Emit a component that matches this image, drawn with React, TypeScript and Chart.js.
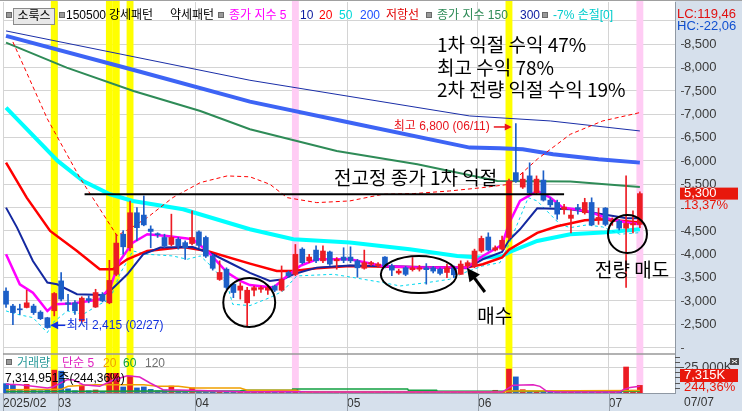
import React, { useEffect, useRef } from 'react';
import { Chart, registerables } from 'chart.js';

Chart.register(...registerables);

// ---------------- data ----------------
// candle index 0 = 2025/02/19 ... index 92 = 2025/07/07
const opens = [
  3210, 2890, 2830, 2860, 2890, 2760, 2640, 2790, 3430, 2960,
  2960, 2570, 3050, 2870, 3140, 2960, 3570, 4430, 4140, 4890,
  4840, 4540, 4440, 4360, 4210, 4320, 4250, 4230, 4480, 4360,
  3960, 3460, 3680, 3360, 3230, 2960, 3230, 3250, 3230, 3320,
  3230, 3610, 3570, 4110, 3860, 4090, 3860, 4050, 3860, 3940,
  3940, 3860, 3700, 3790, 3750, 3940, 3750, 3600, 3710, 3670,
  3680, 3710, 3710, 3680, 3610, 3710, 3570, 3750, 3750, 4070,
  4370, 4090, 4110, 4360, 5750, 5440, 5680, 5320, 5590, 5160,
  5110, 4960, 4770, 5000, 4890, 5110, 4750, 4990, 4700, 4710,
  4560, 4630, 4640,
];
const highs = [
  3280, 2930, 2930, 3230, 2930, 2790, 2650, 3180, 3610, 3140,
  3010, 3090, 3110, 3250, 3180, 3870, 4430, 4510, 5140, 5000,
  5250, 4610, 4460, 4430, 4860, 4360, 4290, 4930, 4500, 4390,
  4000, 3860, 3710, 3390, 3390, 3290, 3320, 3320, 3320, 3340,
  3750, 3640, 4210, 4140, 4000, 4180, 4180, 4070, 3930, 4140,
  4160, 3890, 4090, 3850, 3820, 3950, 3790, 3680, 3740, 3930,
  3760, 3800, 3740, 3710, 3790, 3750, 3860, 3860, 4110, 4390,
  4460, 4180, 4390, 5610, 6800, 5750, 5960, 5680, 5790, 5210,
  5160, 5070, 4960, 5070, 5200, 5210, 4990, 5000, 4780, 4740,
  5680, 4930, 5340,
];
const lows = [
  2860, 2490, 2710, 2850, 2710, 2600, 2415, 2680, 3000, 2790,
  2710, 2540, 2960, 2860, 2980, 2940, 3540, 4000, 4070, 4290,
  4610, 4140, 4360, 4140, 4180, 4110, 3890, 4200, 4140, 3930,
  3660, 3440, 3250, 3070, 3040, 2460, 3110, 3180, 3140, 3200,
  3210, 3500, 3540, 3790, 3820, 3820, 3820, 3760, 3680, 3820,
  3820, 3510, 3680, 3760, 3720, 3710, 3540, 3570, 3540, 3640,
  3640, 3360, 3600, 3560, 3500, 3500, 3570, 3710, 3710, 4040,
  4070, 4070, 4090, 4320, 5540, 5410, 5290, 5290, 5140, 5010,
  4750, 4860, 4460, 4860, 4860, 4610, 4640, 4610, 4620, 4520,
  3290, 4460, 4570,
];
const closes = [
  2930, 2750, 2810, 2960, 2750, 2620, 2430, 3160, 3040, 2930,
  2790, 3060, 3010, 3180, 3000, 3440, 4240, 4160, 4890, 4570,
  4630, 4490, 4420, 4180, 4360, 4180, 4140, 4360, 4190, 3960,
  3700, 3610, 3290, 3180, 3320, 3230, 3285, 3285, 3285, 3230,
  3460, 3540, 4000, 3820, 3940, 3860, 4070, 3790, 3890, 3870,
  3860, 3710, 3820, 3820, 3790, 3750, 3660, 3640, 3570, 3710,
  3710, 3670, 3640, 3590, 3710, 3560, 3790, 3820, 4070, 4340,
  4090, 4140, 4300, 5570, 5570, 5610, 5320, 5610, 5160, 5060,
  4860, 5010, 4840, 4960, 5110, 4630, 4790, 4640, 4740, 4560,
  4660, 4660, 5300,
];
const volumesK = [
  9000, 7400, 2500, 8300, 3500, 2200, 2900, 22000, 21000, 4000,
  2200, 7700, 2200, 2900, 1600, 18900, 18900, 5800, 16300, 4900,
  5800, 3500, 2200, 2900, 6700, 2200, 2200, 4900, 2200, 1900,
  2200, 1600, 1600, 1600, 1600, 1200, 1000, 2300, 1000, 800,
  2400, 800, 3300, 900, 1100, 800, 1000, 900, 700, 800,
  900, 800, 1000, 700, 900, 800, 700, 800, 700, 900,
  800, 700, 800, 700, 900, 700, 1100, 800, 1300, 1000,
  900, 2600, 1600, 23000, 15500, 3200, 1000, 900, 1100, 800,
  1200, 700, 900, 700, 800, 900, 700, 800, 700, 1000,
  25000, 2700, 7315,
];

type Pt = [number, number]; // [candle index, value]
const ema5: Pt[] = [[0, 4000], [2, 3357], [3.9, 3178], [6, 2786], [7.1, 2929], [9.7, 2943], [13.6, 3036], [15.1, 3286], [16.5, 3857], [18.4, 4250], [20.5, 4429], [23.4, 4393], [27.1, 4321], [29.2, 4071], [32.1, 3607], [34, 3429], [35.4, 3340], [38.8, 3286], [40.8, 3536], [42.7, 3750], [45.1, 3893], [49.9, 3893], [54.7, 3750], [59.7, 3714], [66.9, 3714], [69.2, 3964], [72, 4200], [73, 4660], [74.6, 5143], [77.1, 5357], [79, 5214], [80.8, 5000], [84.3, 4929], [87.7, 4750], [90.1, 4679], [92, 4643]];
const ema10: Pt[] = [[0, 5000], [1.6, 4571], [3.9, 3857], [6, 3393], [7.4, 3357], [10.3, 3143], [14.1, 3129], [15.1, 3214], [17.6, 3571], [19.9, 4000], [22.4, 4143], [27.1, 4157], [30, 4000], [32.9, 3786], [35.4, 3600], [38.3, 3428], [40.2, 3464], [41.7, 3571], [45.1, 3714], [49.9, 3760], [57.2, 3740], [66.9, 3700], [69.2, 3893], [72, 4050], [73, 4300], [74.6, 4536], [77.1, 4986], [81.9, 4964], [86.6, 4857], [90.1, 4771], [92, 4771]];
const ema20: Pt[] = [[0, 5964], [3, 5214], [6.4, 4500], [10.3, 4071], [13.6, 3679], [15.5, 3679], [17.6, 3893], [20.5, 4071], [25.7, 4157], [29.2, 4071], [35.4, 3800], [39.3, 3643], [41.7, 3643], [45.1, 3700], [49.9, 3750], [57.2, 3728], [66.9, 3714], [69.2, 3786], [72, 3930], [73, 4100], [77.1, 4460], [80, 4600], [84, 4730], [86.9, 4750], [92, 4680]];
const ema50: Pt[] = [[0, 7143], [7.5, 6000], [11.2, 5571], [15.1, 5286], [18.4, 5143], [25.7, 4964], [35.4, 4536], [41.7, 4321], [49.9, 4250], [58.6, 4107], [65.5, 3964], [69.2, 3928], [72, 3960], [73.1, 4050], [77.1, 4286], [81.9, 4429], [86.6, 4464], [92, 4536]];
const ema150: Pt[] = [[0, 8536], [8.8, 8000], [18.5, 7500], [28.2, 7071], [35.4, 6679], [48, 6214], [59.7, 5928], [71.3, 5571], [81.9, 5557], [92, 5443]];
const ema200: Pt[] = [[0, 8679], [18, 7970], [35.4, 7271], [50, 6820], [67.3, 6286], [71.7, 6271], [75, 6250], [79.4, 6143], [86, 6036], [92, 5964]];
const ema300: Pt[] = [[0, 8786], [35.4, 7729], [67.3, 6964], [79, 6857], [92, 6643]];
const resistance: Pt[] = [[1, 8550], [6, 6900], [10.7, 5643], [16.1, 4400], [18, 4550], [20.5, 4786], [24.2, 5214], [28.2, 5536], [32.1, 5679], [35.4, 5660], [38.3, 5500], [40.8, 5214], [45.1, 5107], [49.9, 5143], [54.7, 5286], [59.1, 5300], [64.4, 5357], [69.2, 5429], [73.1, 5500], [77.1, 6036], [81.9, 6571], [86.6, 6857], [92, 7036]];
const stopLoss7: Pt[] = [[0, 2786], [1.6, 2714], [3.9, 2643], [6, 2321], [6.8, 2536], [8.9, 2786], [11.2, 2714], [13.6, 2929], [15.1, 3036], [16.5, 3571], [17.6, 3857], [18.4, 4071], [20.5, 4000], [24.2, 3964], [26.3, 3893], [28.2, 3964], [30, 3714], [32.1, 3357], [32.9, 2929], [35.4, 2900], [38.3, 3071], [40.2, 3214], [42.2, 3536], [47.5, 3571], [49.9, 3514], [54.7, 3393], [57.2, 3321], [61.1, 3393], [64.4, 3464], [66.9, 3628], [69.2, 3750], [71.7, 3821], [73.1, 4250], [74.6, 4786], [75.8, 5214], [77.1, 5143], [78.5, 4929], [80.4, 4643], [81.9, 4571], [84.3, 4629], [86.6, 4586], [89.1, 4429], [92, 4464]];

const volMa5: Pt[] = [[0, 8500], [2, 8000], [3.9, 6400], [6, 4800], [6.8, 5800], [8.9, 12800], [9.7, 12800], [11.2, 8000], [13.6, 6400], [15.5, 12200], [17.6, 16600], [19.4, 15400], [20.9, 9600], [22.8, 3200], [25, 3000], [28, 2500], [32, 1800], [35, 1000], [40, 1500], [45, 900], [72, 900], [72.7, 3800], [73.6, 7400], [76.5, 8000], [77.5, 6400], [78.5, 1600], [80, 900], [89, 900], [89.6, 3200], [90.6, 5400], [92, 6400]];
const volMa20: Pt[] = [[0, 3200], [8, 3500], [9, 6400], [13, 8000], [20, 8000], [22, 6400], [25, 6400], [27, 4800], [34, 4800], [35, 2600], [42, 2600], [43, 1000], [72, 900], [73, 2000], [92, 2300]];
const volMa60: Pt[] = [[0, 1500], [34, 2200], [35, 2600], [41.5, 2600], [41.6, 3800], [58.3, 3800], [58.4, 2600], [62.5, 2600], [62.6, 1700], [92, 1700]];
const volMa120: Pt[] = [[0, 1300], [92, 1500]];

const priceTicks = [2000, 2500, 3000, 3500, 4000, 4500, 5000, 5500, 6000, 6500, 7000, 7500, 8000, 8500, 9000];
const hiddenPriceLabels = [2000, 5000, 9000];
const volumeTicks = [25000];
const volumeMinorTicks = [5000, 10000, 15000, 20000, 30000, 35000];
const monthStarts = [8, 28, 50, 69, 88];
const monthLabels = ['03', '04', '05', '06', '07'];
const firstMonthLabel = '2025/02';
const lastDateLabel = '07/07';
const yellowDays = [7, 15, 16, 18, 73];
const pinkDays = [42, 92];

const prevHighClose = 5286;
const prevHighSpan: Pt = [11.4, 81.0];
const highMark = { text: '최고 6,800 (06/11)', price: 6728, textEnd: 70.2, arrowFrom: 70.8, arrowTo: 73.4 };
const lowMark = { text: '최저 2,415 (02/27)', price: 2478, arrowTo: 6.4, arrowFrom: 8.6, textStart: 8.8 };
const notes: { text: string; at: Pt }[] = [
  { text: '1차 익절 수익 47%', at: [62.55, 8485] },
  { text: '최고 수익 78%', at: [62.55, 7992] },
  { text: '2차 전량 익절 수익 19%', at: [62.55, 7521] },
  { text: '전고정 종가 1차 익절', at: [47.6, 5635] },
  { text: '매수', at: [68.4, 2677] },
  { text: '전량 매도', at: [85.5, 3674] },
];
const buyArrow: { from: Pt; to: Pt } = { from: [69.5, 3192], to: [66.9, 3706] };
const circles: { c: Pt; rx: number; ry: number }[] = [
  { c: [35.3, 2967], rx: 3.77, ry: 525 },
  { c: [59.9, 3567], rx: 5.5, ry: 396 },
  { c: [90.2, 4435], rx: 2.83, ry: 407 },
];
const lcText = 'LC:119,46';
const hcText = 'HC:-22,06';
const lastChangeText = '13,37%';
const lastVolText = '7,315K';
const lastVolPctText = '244,36%';
const volSummaryText = '7,314,951주(244,36%)';

// ---------------- layout / style ----------------
const X_MIN = -0.44;
const X_MAX = 97.1;
const Y_MIN = 1863;
const Y_MAX = 9406;
const V_MAX = 37500;

const PANEL_BG = '#d6e0ec';
const GRID = '#d4d4d4';
const UP = '#ec1c24';
const DOWN = '#1c5fc8';
const YELLOW = '#ffff00';
const PINK = '#ffccf4';
const KR = '"Noto Sans CJK KR", sans-serif';
const NUM = '"Liberation Sans", "Noto Sans CJK KR", sans-serif';
const NARROW = '"Liberation Sans Narrow", "Liberation Sans", sans-serif';

const overlayPlugin = {
  id: 'overlay',
  beforeDraw(chart: any) {
    const { ctx, chartArea: ca, width, height } = chart;
    ctx.save();
    ctx.fillStyle = '#ffffff';
    ctx.fillRect(0, 0, width, height);
    ctx.fillStyle = PANEL_BG;
    ctx.fillRect(ca.right, 0, width - ca.right, height);
    ctx.fillRect(0, ca.bottom, width, height - ca.bottom);
    ctx.restore();
  },
  beforeDatasetsDraw(chart: any) {
    const { ctx, chartArea: ca, scales } = chart;
    const x = scales.x;
    const w = x.getPixelForValue(1) - x.getPixelForValue(0);
    ctx.save();
    const band = (i: number, color: string) => {
      const px = x.getPixelForValue(i);
      ctx.fillStyle = color;
      ctx.fillRect(px - w / 2, 0, w, ca.bottom);
    };
    yellowDays.forEach((i) => band(i, YELLOW));
    pinkDays.forEach((i) => band(i, PINK));
    ctx.restore();
  },
  afterDraw(chart: any) {
    const { ctx, chartArea: ca, scales, width, height } = chart;
    const x = scales.x;
    const y = scales.y;
    const yv = scales.yv;
    const X = (i: number) => x.getPixelForValue(i);
    const Y = (p: number) => y.getPixelForValue(p);
    const line = (x1: number, y1: number, x2: number, y2: number) => {
      ctx.beginPath();
      ctx.moveTo(x1, y1);
      ctx.lineTo(x2, y2);
      ctx.stroke();
    };
    const arrow = (x1: number, y1: number, x2: number, y2: number, color: string, lw: number, head: number) => {
      const a = Math.atan2(y2 - y1, x2 - x1);
      ctx.strokeStyle = color;
      ctx.fillStyle = color;
      ctx.lineWidth = lw;
      line(x1, y1, x2 - Math.cos(a) * head * 0.8, y2 - Math.sin(a) * head * 0.8);
      ctx.beginPath();
      ctx.moveTo(x2, y2);
      ctx.lineTo(x2 - head * Math.cos(a) + head * 0.5 * Math.sin(a), y2 - head * Math.sin(a) - head * 0.5 * Math.cos(a));
      ctx.lineTo(x2 - head * Math.cos(a) - head * 0.5 * Math.sin(a), y2 - head * Math.sin(a) + head * 0.5 * Math.cos(a));
      ctx.closePath();
      ctx.fill();
    };
    ctx.save();
    // frame lines
    ctx.strokeStyle = '#a0a0a0';
    ctx.lineWidth = 1;
    line(0, 0.5, width, 0.5);
    ctx.strokeStyle = '#999999';
    ctx.lineWidth = 1.5;
    line(ca.left, yv.top, ca.right, yv.top);
    // date band separators
    ctx.strokeStyle = '#9aa3ae';
    ctx.lineWidth = 1;
    x.ticks.forEach((t: any) => {
      const px = Math.round(X(t.value)) + 0.5;
      line(px, ca.bottom, px, height);
    });
    // axis tick marks
    ctx.strokeStyle = '#555';
    y.ticks.forEach((t: any) => {
      const py = Math.round(Y(t.value)) + 0.5;
      line(ca.right + 6, py, ca.right + 9, py);
    });
    yv.ticks.forEach((t: any) => {
      const py = Math.round(yv.getPixelForValue(t.value)) + 0.5;
      line(ca.right, py, ca.right + 9, py);
    });
    volumeMinorTicks.forEach((v) => {
      const py = Math.round(yv.getPixelForValue(v)) + 0.5;
      line(ca.right, py, ca.right + 5, py);
    });

    // previous-high close line
    ctx.strokeStyle = '#000';
    ctx.lineWidth = 2;
    line(X(prevHighSpan[0]), Y(prevHighClose), X(prevHighSpan[1]), Y(prevHighClose));

    // circles
    ctx.lineWidth = 2;
    circles.forEach(({ c, rx, ry }) => {
      const cx = X(c[0]);
      const cy = Y(c[1]);
      ctx.beginPath();
      ctx.ellipse(cx, cy, X(c[0] + rx) - cx, Y(c[1] - ry) - cy, 0, 0, Math.PI * 2);
      ctx.stroke();
    });

    // notes
    ctx.fillStyle = '#000';
    ctx.textBaseline = 'middle';
    ctx.textAlign = 'left';
    ctx.font = `19px ${KR}`;
    notes.forEach((n) => ctx.fillText(n.text, X(n.at[0]), Y(n.at[1])));

    // buy arrow
    arrow(X(buyArrow.from[0]), Y(buyArrow.from[1]), X(buyArrow.to[0]), Y(buyArrow.to[1]), '#000', 3, 13);

    // high / low marks
    ctx.font = `12px ${NUM}`;
    ctx.textAlign = 'right';
    ctx.fillStyle = '#e8141c';
    ctx.fillText(highMark.text, X(highMark.textEnd), Y(highMark.price));
    arrow(X(highMark.arrowFrom), Y(highMark.price), X(highMark.arrowTo), Y(highMark.price), '#e8141c', 1.5, 7);
    ctx.textAlign = 'left';
    ctx.fillStyle = '#1030e0';
    ctx.fillText(lowMark.text, X(lowMark.textStart), Y(lowMark.price));
    arrow(X(lowMark.arrowFrom), Y(lowMark.price), X(lowMark.arrowTo), Y(lowMark.price), '#1030e0', 1.5, 8);

    // right panel labels
    const lx = ca.right + 9;
    ctx.textAlign = 'left';
    ctx.font = `13px ${NARROW}`;
    ctx.fillStyle = '#e01010';
    ctx.fillText(lcText, ca.right + 2, 14);
    ctx.fillStyle = '#1050d0';
    ctx.fillText(hcText, ca.right + 2, 26);

    const lastClose = closes[closes.length - 1];
    const pyc = Y(lastClose);
    ctx.fillStyle = '#e8180c';
    ctx.fillRect(ca.right + 5, pyc - 6, 58, 12);
    ctx.fillStyle = '#ffffff';
    ctx.fillText(lastClose.toLocaleString('en-US'), lx, pyc);
    ctx.fillStyle = '#e8180c';
    ctx.fillText(lastChangeText, lx, pyc + 12);

    const vTop = yv.top;
    ctx.fillStyle = '#e8180c';
    ctx.fillRect(ca.right + 5, vTop + 15, 58, 13);
    ctx.fillStyle = '#ffffff';
    ctx.fillText(lastVolText, lx, vTop + 21.5);
    ctx.fillStyle = '#e8180c';
    ctx.fillText(lastVolPctText, lx, vTop + 33);
    ctx.fillStyle = '#4a4a4a';
    ctx.fillRect(width - 12, vTop + 4, 9, 7);
    ctx.strokeStyle = '#ffffff';
    ctx.lineWidth = 1;
    line(width - 10, vTop + 6, width - 5, vTop + 9);
    line(width - 10, vTop + 9, width - 5, vTop + 6);

    ctx.font = `12px ${NUM}`;
    ctx.fillStyle = '#333';
    ctx.fillText(lastDateLabel, lx, (ca.bottom + height) / 2 + 1);
    ctx.restore();
  },
};

const headerItems: { t: string; x: number; c: string }[] = [
  { t: '150500', x: 66, c: '#000' },
  { t: '강세패턴', x: 109, c: '#000' },
  { t: '약세패턴', x: 170, c: '#000' },
  { t: '종가 지수 5', x: 229, c: '#ff00ff' },
  { t: '10', x: 300, c: '#0a1aa0' },
  { t: '20', x: 319, c: '#ff0000' },
  { t: '50', x: 339, c: '#00dada' },
  { t: '200', x: 360, c: '#2050ff' },
  { t: '저항선', x: 386, c: '#e00000' },
  { t: '종가 지수 150', x: 437, c: '#2e8b57' },
  { t: '300', x: 520, c: '#0a1aa0' },
  { t: '-7% 손절[0]', x: 553, c: '#00cccc' },
];
const headerSquares = [6, 59, 218, 426, 542];
const volLegend: { t: string; x: number; c: string }[] = [
  { t: '거래량', x: 17, c: '#2a9a9a' },
  { t: '단순 5', x: 62, c: '#e020c0' },
  { t: '20', x: 103, c: '#f0a000' },
  { t: '60', x: 123, c: '#10a040' },
  { t: '120', x: 145, c: '#707070' },
];

function Square({ x, y }: { x: number; y: number }) {
  return (
    <div style={{ position: 'absolute', left: x, top: y, width: 4, height: 4, background: '#9a9a9a', border: '1px solid #6a6a6a' }} />
  );
}

export default function App() {
  const ref = useRef<HTMLCanvasElement>(null);

  useEffect(() => {
    if (!ref.current) return;
    const idx = closes.map((_, i) => i);
    const colors = idx.map((i) => (closes[i] >= opens[i] ? UP : DOWN));
    const pts = (a: Pt[]) => a.map(([x, y]) => ({ x, y }));
    const lineDs = (label: string, data: Pt[], color: string, width: number, order: number, axis = 'y', dash: number[] = []) => ({
      type: 'line' as const,
      label,
      data: pts(data),
      borderColor: color,
      borderWidth: width,
      borderDash: dash,
      pointRadius: 0,
      tension: 0,
      fill: false,
      yAxisID: axis,
      order,
    });

    const chart = new Chart(ref.current, {
      type: 'bar',
      data: {
        datasets: [
          {
            type: 'bar',
            label: 'body',
            data: idx.map((i) => ({ x: i, y: [opens[i], closes[i]] })) as any,
            backgroundColor: colors,
            borderWidth: 0,
            barThickness: 5,
            grouped: false,
            minBarLength: 1,
            yAxisID: 'y',
            order: 0,
          },
          {
            type: 'bar',
            label: 'wick',
            data: idx.map((i) => ({ x: i, y: [lows[i], highs[i]] })) as any,
            backgroundColor: colors,
            borderWidth: 0,
            barThickness: 1,
            grouped: false,
            yAxisID: 'y',
            order: 1,
          },
          lineDs('ema5', ema5, '#ff00ff', 2.5, 2),
          lineDs('ema10', ema10, '#1428a0', 2, 3),
          lineDs('ema20', ema20, '#ff0000', 2.5, 4),
          lineDs('stop', stopLoss7, '#00d8f0', 1, 5, 'y', [3, 3]),
          lineDs('resistance', resistance, '#ff0000', 1, 6, 'y', [4, 3]),
          lineDs('ema50', ema50, '#00ffff', 4, 7),
          lineDs('ema150', ema150, '#2e8b57', 2, 8),
          lineDs('ema200', ema200, '#3d64f5', 4, 9),
          lineDs('ema300', ema300, '#1a2ea8', 1, 10),
          lineDs('v5', volMa5, '#e020c0', 1.5, 11, 'yv'),
          lineDs('v20', volMa20, '#f0a000', 1.5, 12, 'yv'),
          lineDs('v60', volMa60, '#10a040', 1.5, 13, 'yv'),
          lineDs('v120', volMa120, '#808080', 1.5, 14, 'yv'),
          {
            type: 'bar',
            label: 'volume',
            data: idx.map((i) => ({ x: i, y: volumesK[i] })) as any,
            backgroundColor: colors,
            borderWidth: 0,
            barThickness: 5,
            grouped: false,
            yAxisID: 'yv',
            order: 20,
          },
        ] as any,
      },
      options: {
        animation: false,
        responsive: false,
        maintainAspectRatio: false,
        events: [],
        layout: { padding: { left: 3, top: 2, right: 0, bottom: 0 } },
        plugins: { legend: { display: false }, tooltip: { enabled: false } },
        scales: {
          x: {
            type: 'linear',
            position: 'bottom',
            min: X_MIN,
            max: X_MAX,
            offset: false,
            grid: { color: GRID, offset: false, drawTicks: false },
            border: { display: true, color: '#8f98a3' },
            ticks: {
              autoSkip: false,
              maxRotation: 0,
              minRotation: 0,
              align: 'start',
              padding: 3,
              color: '#333',
              font: { size: 12, family: NUM },
              callback: (_v: any, i: number) => (i === 0 ? firstMonthLabel : monthLabels[i - 1]),
            },
            afterBuildTicks: (s: any) => {
              s.ticks = [X_MIN, ...monthStarts.map((m) => m - 0.5)].map((value) => ({ value }));
            },
            afterFit: (s: any) => {
              s.height = 18;
              s.paddingLeft = 0;
              s.paddingRight = 0;
            },
          },
          y: {
            type: 'linear',
            position: 'right',
            stack: 'r',
            stackWeight: 352,
            min: Y_MIN,
            max: Y_MAX,
            beginAtZero: false,
            grid: { color: GRID, drawTicks: false },
            border: { display: true, color: '#8f98a3' },
            ticks: {
              autoSkip: false,
              padding: 9,
              color: '#3a3a3a',
              font: { size: 13, family: NARROW },
              callback: (v: any) => (hiddenPriceLabels.includes(v) ? '' : Number(v).toLocaleString('en-US')),
            },
            afterBuildTicks: (s: any) => {
              s.ticks = priceTicks.map((value) => ({ value }));
            },
            afterFit: (s: any) => {
              s.width = 67;
              s.paddingTop = 0;
              s.paddingBottom = 0;
            },
          },
          yv: {
            type: 'linear',
            position: 'right',
            stack: 'r',
            stackWeight: 39,
            min: 0,
            max: V_MAX,
            beginAtZero: false,
            grid: { color: GRID, drawTicks: false },
            border: { display: true, color: '#8f98a3' },
            ticks: {
              autoSkip: false,
              padding: 9,
              color: '#3a3a3a',
              font: { size: 13, family: NARROW },
              callback: (v: any) => `${Number(v).toLocaleString('en-US')}K`,
            },
            afterBuildTicks: (s: any) => {
              s.ticks = volumeTicks.map((value) => ({ value }));
            },
            afterFit: (s: any) => {
              s.width = 67;
              s.paddingTop = 0;
              s.paddingBottom = 0;
            },
          },
        } as any,
      },
      plugins: [overlayPlugin],
    });
    return () => chart.destroy();
  }, []);

  const txt = (x: number, top: number, color: string): React.CSSProperties => ({
    position: 'absolute',
    left: x,
    top,
    color,
    fontSize: 12,
    lineHeight: '14px',
    fontFamily: NUM,
    whiteSpace: 'nowrap',
  });

  return (
    <div style={{ position: 'fixed', left: 0, top: 0, width: 742, height: 411, overflow: 'hidden', background: '#fff' }}>
      <canvas ref={ref} width={742} height={411} style={{ position: 'absolute', left: 0, top: 0, width: 742, height: 411 }} />
      {headerSquares.map((x) => (
        <Square key={x} x={x} y={12} />
      ))}
      <div
        style={{
          position: 'absolute', left: 13, top: 8, width: 40, height: 15, border: '1px solid #8a8a8a',
          background: '#e8e8e8', fontSize: 12, lineHeight: '15px', fontFamily: NUM, textAlign: 'center', color: '#000',
        }}
      >
        소룩스
      </div>
      {headerItems.map((h) => (
        <span key={h.t + h.x} style={txt(h.x, 8, h.c)}>{h.t}</span>
      ))}
      <Square x={6} y={359} />
      {volLegend.map((h) => (
        <span key={h.t + h.x} style={txt(h.x, 356, h.c)}>{h.t}</span>
      ))}
      <span style={txt(5, 371, '#000')}>{volSummaryText}</span>
    </div>
  );
}
